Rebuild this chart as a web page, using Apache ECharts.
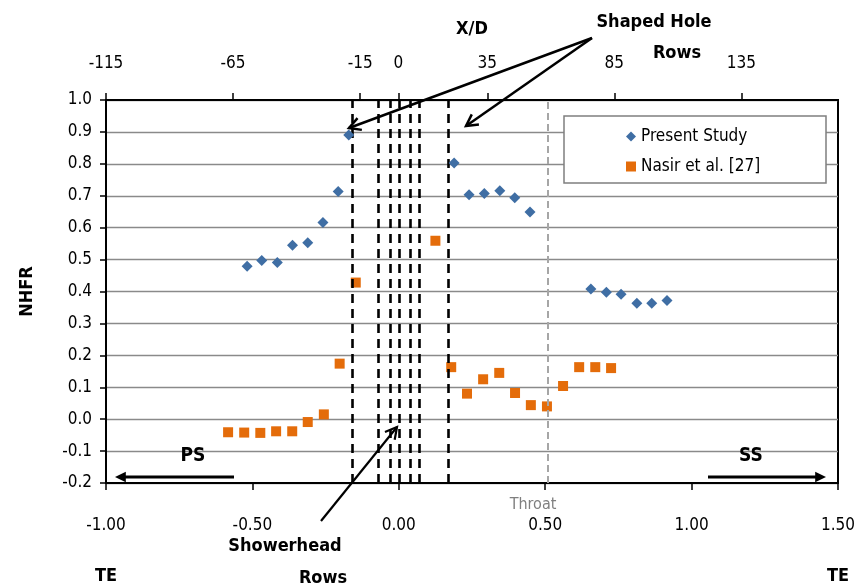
<!DOCTYPE html>
<html>
<head>
<meta charset="utf-8">
<script src="https://cdn.jsdelivr.net/npm/echarts@6/dist/echarts.min.js"></script>
<style>html,body{margin:0;padding:0;background:#fff}#c{width:863px;height:586px}</style>
</head>
<body>
<div id="c"></div>
<script>
// ---- data ----
const presentX = [-0.518,-0.468,-0.415,-0.363,-0.311,-0.259,-0.207,-0.171,0.189,0.240,0.292,0.345,0.396,0.448,0.656,0.709,0.759,0.813,0.864,0.916];
const presentY = [0.479,0.497,0.491,0.545,0.553,0.616,0.713,0.890,0.803,0.703,0.707,0.716,0.694,0.649,0.408,0.398,0.391,0.363,0.363,0.372];
const nasirX = [-0.583,-0.528,-0.473,-0.419,-0.364,-0.311,-0.256,-0.202,-0.147,0.125,0.179,0.233,0.288,0.343,0.397,0.451,0.506,0.561,0.616,0.671,0.725];
const nasirY = [-0.041,-0.042,-0.043,-0.038,-0.038,-0.009,0.015,0.174,0.428,0.559,0.163,0.080,0.125,0.145,0.082,0.044,0.040,0.104,0.163,0.163,0.160];
const shapedRows = [-0.159, 0.169];
const showerRows = [-0.065,-0.033,0.001,0.035,0.068];
const throatX = [0.51];
const topTicks = [-115,-65,-15,0,35,85,135];
const seriesNames = ['Present Study','Nasir et al. [27]'];

const FONT = '"Liberation Sans Narrow","DejaVu Sans Condensed","Open Sans",sans-serif';

function zip(a,b){return a.map((v,i)=>[v,b[i]]);}

const blackDash = [...shapedRows, ...showerRows].map(v => ({xAxis: v}));

function arrow(x1,y1,x2,y2,filled,w){
  const ang = Math.atan2(y2-y1,x2-x1);
  const L = filled?12:13, a = filled?0.45:0.5;
  const p1=[x2-L*Math.cos(ang-a), y2-L*Math.sin(ang-a)];
  const p2=[x2-L*Math.cos(ang+a), y2-L*Math.sin(ang+a)];
  const els=[{type:'line',shape:{x1:x1,y1:y1,x2:filled?(x2-L*0.8*Math.cos(ang)):x2,y2:filled?(y2-L*0.8*Math.sin(ang)):y2},style:{stroke:'#000',lineWidth:w},z:30}];
  if(filled){
    els.push({type:'polygon',shape:{points:[[x2,y2],p1,p2]},style:{fill:'#000'},z:30});
  }else{
    els.push({type:'polyline',shape:{points:[p1,[x2,y2],p2]},style:{stroke:'#000',lineWidth:w,fill:null},z:30});
  }
  return els;
}
function txt(x,y,s,size,bold,color){
  return {type:'text',x:x,y:y,z:30,style:{text:s,fill:color||'#000',font:(bold?'bold ':'')+size+'px '+FONT,align:'center',verticalAlign:'middle'}};
}

const chart = echarts.init(document.getElementById('c'));
chart.setOption({
  animation:false,
  textStyle:{fontFamily:FONT},
  grid:{left:106,right:25,top:100,bottom:103,show:true,borderColor:'#000',borderWidth:2,backgroundColor:'transparent',outerBoundsMode:'none'},
  legend:{
    data:[{name:seriesNames[0],icon:'diamond'},{name:seriesNames[1],icon:'rect'}],
    orient:'vertical',left:621,top:123,itemWidth:10,itemHeight:10,itemGap:13,z:20,
    textStyle:{fontSize:17,color:'#000',fontFamily:FONT}
  },
  xAxis:[{
    type:'value',position:'bottom',min:-1,max:1.5,interval:0.5,
    axisLine:{show:true,onZero:false,lineStyle:{color:'#000',width:2}},
    axisTick:{show:true,length:7,lineStyle:{color:'#000',width:1.5}},
    splitLine:{show:false},
    axisLabel:{margin:30,color:'#000',fontSize:17,fontFamily:FONT,
      formatter:function(v){const s=v.toFixed(2); return (Math.abs(v+1)<1e-9||Math.abs(v-1.5)<1e-9)?('{v|'+s+'}\n{t|TE}'):('{v|'+s+'}');},
      rich:{v:{fontSize:17,lineHeight:26,color:'#000',fontFamily:FONT},t:{fontSize:18,fontWeight:'bold',lineHeight:74,color:'#000',fontFamily:FONT}}},
    name:'X/C',nameLocation:'middle',nameGap:73,nameTextStyle:{fontSize:18,fontWeight:'bold',color:'#000',fontFamily:FONT}
  },{
    type:'value',position:'top',min:-115,max:173,interval:50,
    axisLine:{show:true,onZero:false,lineStyle:{color:'#000',width:2}},
    axisTick:{show:true,length:7,customValues:topTicks,lineStyle:{color:'#000',width:1.5}},
    splitLine:{show:false},
    axisLabel:{margin:28,color:'#000',fontSize:17,fontFamily:FONT,customValues:topTicks,formatter:v=>String(v)},
    name:'X/D',nameLocation:'middle',nameGap:62,nameTextStyle:{fontSize:18,fontWeight:'bold',color:'#000',fontFamily:FONT}
  }],
  yAxis:{
    type:'value',min:-0.2,max:1.0,interval:0.1,
    axisLine:{show:true,onZero:false,lineStyle:{color:'#000',width:2}},
    axisTick:{show:true,length:6,lineStyle:{color:'#000',width:1.5}},
    splitLine:{show:true,lineStyle:{color:'#8a8a8a',width:1.3}},
    axisLabel:{margin:14,color:'#000',fontSize:17,fontFamily:FONT,formatter:v=>v.toFixed(1)},
    name:'NHFR',nameLocation:'middle',nameGap:70,nameRotate:90,nameTextStyle:{fontSize:18,fontWeight:'bold',color:'#000',fontFamily:FONT}
  },
  series:[{
    name:seriesNames[0],type:'scatter',xAxisIndex:0,symbol:'diamond',symbolSize:[11,11],
    itemStyle:{color:'#3f6ea4',opacity:1},data:zip(presentX,presentY),z:5
  },{
    name:seriesNames[1],type:'scatter',xAxisIndex:0,symbol:'rect',symbolSize:10,
    itemStyle:{color:'#e46c0a',opacity:1},data:zip(nasirX,nasirY),z:4
  },{
    name:'rows',type:'scatter',xAxisIndex:0,data:[],silent:true,
    markLine:{silent:true,symbol:['none','none'],label:{show:false},animation:false,
      lineStyle:{color:'#000',width:2.6,type:[9,6]},data:blackDash}
  },{
    name:'throat',type:'scatter',xAxisIndex:0,data:[],silent:true,
    markLine:{silent:true,symbol:['none','none'],label:{show:false},animation:false,
      lineStyle:{color:'#a6a6a6',width:2,type:[7,4]},data:throatX.map(v=>({xAxis:v}))}
  }],
  graphic:[
    {type:'rect',shape:{x:564,y:116,width:262,height:67},style:{fill:'#fff',stroke:'#7f7f7f',lineWidth:1.5},z:15},
    txt(654,22,'Shaped Hole',18,true),
    txt(677,53,'Rows',18,true),
    ...arrow(592,38,349,128,false,2.5),
    ...arrow(592,38,466,126,false,2.5),
    txt(285,546,'Showerhead',18,true),
    txt(323,578,'Rows',18,true),
    ...arrow(321,521,397,427,false,2.2),
    txt(193,456,'PS',19,true),
    ...arrow(234,477,115,477,true,3),
    txt(751,456,'SS',19,true),
    ...arrow(708,477,826,477,true,3),
    txt(533,505,'Throat',16,false,'#7f7f7f')
  ]
});
</script>
</body>
</html>
